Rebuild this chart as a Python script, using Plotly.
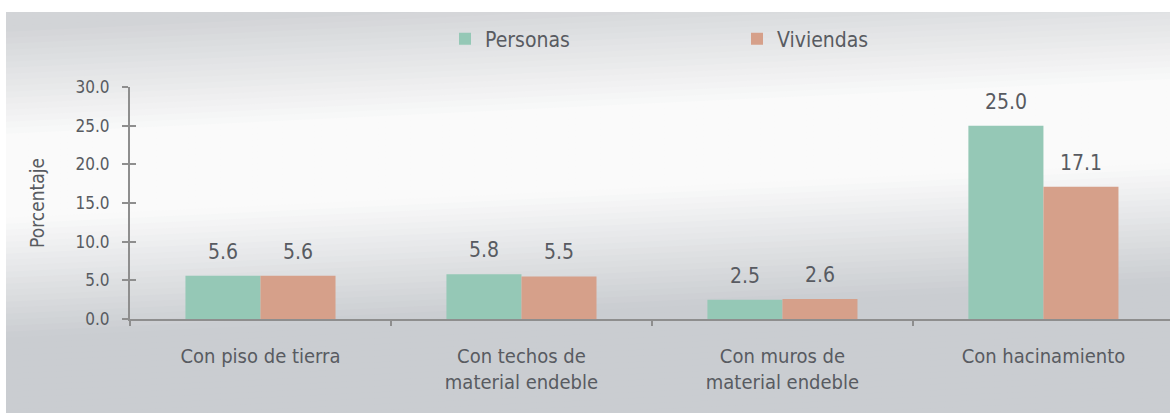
import plotly.graph_objects as go

categories = ["Con piso de tierra", "Con techos de<br>material endeble",
              "Con muros de<br>material endeble", "Con hacinamiento"]
personas = [5.6, 5.8, 2.5, 25.0]
viviendas = [5.6, 5.5, 2.6, 17.1]
series_names = ["Personas", "Viviendas"]
y_ticks = [0, 5, 10, 15, 20, 25, 30]
y_tick_labels = ["0.0", "5.0", "10.0", "15.0", "20.0", "25.0", "30.0"]

GREEN = "#95C8B6"
SALMON = "#D6A08A"
TXT = "#585b61"
AXC = "#8e8e8e"
FONT = "Liberation Sans Narrow, DejaVu Sans Condensed, Arial Narrow, sans-serif"

W, H = 1170, 413
L, R, T, B = 130, 0, 87, 94
PW, PH = W - L - R, H - T - B


def px(X):
    return (X - L) / PW


def py(Y):
    return (H - B - Y) / PH


def f(size):
    return dict(family=FONT, size=size, color=TXT)


fig = go.Figure()
fig.add_trace(go.Bar(name=series_names[0], x=categories, y=personas,
                     marker=dict(color=GREEN, line=dict(width=0))))
fig.add_trace(go.Bar(name=series_names[1], x=categories, y=viviendas,
                     marker=dict(color=SALMON, line=dict(width=0))))
# overlay axis for inner half of crossing ticks
fig.add_trace(go.Scatter(x=[categories[0]], y=[0], yaxis="y2", mode="markers",
                         marker=dict(opacity=0), showlegend=False, hoverinfo="skip"))

# background gradient (diagonal light band)
shapes = []


def lerp(a, b, t):
    return tuple(int(round(a[i] + (b[i] - a[i]) * t)) for i in range(3))


top_c = (210, 212, 215)
white_c = (250, 250, 250)
bot_c = (202, 205, 209)


def band_color(o):
    if o < -40:
        t = min(1.0, (-40 - o) / 110)
        return lerp(white_c, top_c, t)
    if o > 40:
        t = min(1.0, (o - 40) / 120)
        return lerp(white_c, bot_c, t)
    return white_c


def yc(X):
    return 178 - 55 * X / 1170


step = 6
o = -260
while o < 300:
    c = band_color(o + step / 2)
    x0, x1 = 0, W
    pts = [(x0, yc(x0) + o), (x1, yc(x1) + o), (x1, yc(x1) + o + step + 1), (x0, yc(x0) + o + step + 1)]
    path = "M " + " L ".join(f"{px(a):.5f},{py(b):.5f}" for a, b in pts) + " Z"
    shapes.append(dict(type="path", path=path, xref="paper", yref="paper",
                       fillcolor=f"rgb{c}", line=dict(width=0), layer="below"))
    o += step
# white margins top and left
shapes.append(dict(type="rect", xref="paper", yref="paper", x0=px(0), x1=px(W), y0=py(12), y1=py(-5),
                   fillcolor="white", line=dict(width=0), layer="below"))
shapes.append(dict(type="rect", xref="paper", yref="paper", x0=px(-5), x1=px(6), y0=py(H + 5), y1=py(-5),
                   fillcolor="white", line=dict(width=0), layer="below"))

annotations = []
for vals, shift in ((personas, -37.5), (viviendas, 37.5)):
    for cat, v in zip(categories, vals):
        annotations.append(dict(x=cat, y=v, xref="x", yref="y", text=f"{v:.1f}", showarrow=False,
                                xshift=shift, yanchor="bottom", yshift=10, font=f(21)))

fig.update_layout(
    width=W, height=H,
    margin=dict(l=L, r=R, t=T, b=B, autoexpand=False),
    paper_bgcolor="white", plot_bgcolor="rgba(0,0,0,0)",
    barmode="group", bargap=0.425, bargroupgap=0,
    font=f(18),
    shapes=shapes, annotations=annotations,
    showlegend=True,
    legend=dict(orientation="h", x=px(445), y=py(39), xanchor="left", yanchor="middle",
                font=f(21), entrywidth=247,
                bgcolor="rgba(0,0,0,0)", traceorder="normal"),
    xaxis=dict(type="category", range=[-0.5, 3.485], showline=True, linecolor=AXC, linewidth=2,
               ticks="outside", tickson="boundaries", ticklen=5, tickwidth=2, tickcolor=AXC,
               showgrid=False, zeroline=False, ticklabelstandoff=18, tickfont=f(20)),
    yaxis=dict(range=[0, 30], tickvals=y_ticks, ticktext=y_tick_labels, showline=True,
               linecolor=AXC, linewidth=2, ticks="outside", ticklen=6, tickwidth=2, tickcolor=AXC,
               showgrid=False, zeroline=False, ticklabelstandoff=9, tickfont=f(17),
               title=dict(text="Porcentaje", font=f(19), standoff=26)),
    yaxis2=dict(range=[0, 30], overlaying="y", side="left", tickvals=y_ticks, showticklabels=False,
                ticks="inside", ticklen=6, tickwidth=2, tickcolor=AXC, showgrid=False,
                zeroline=False, showline=False),
)

fig.write_html("out.html", config={"displayModeBar": False},
               post_script="document.body.style.margin='0px';")
